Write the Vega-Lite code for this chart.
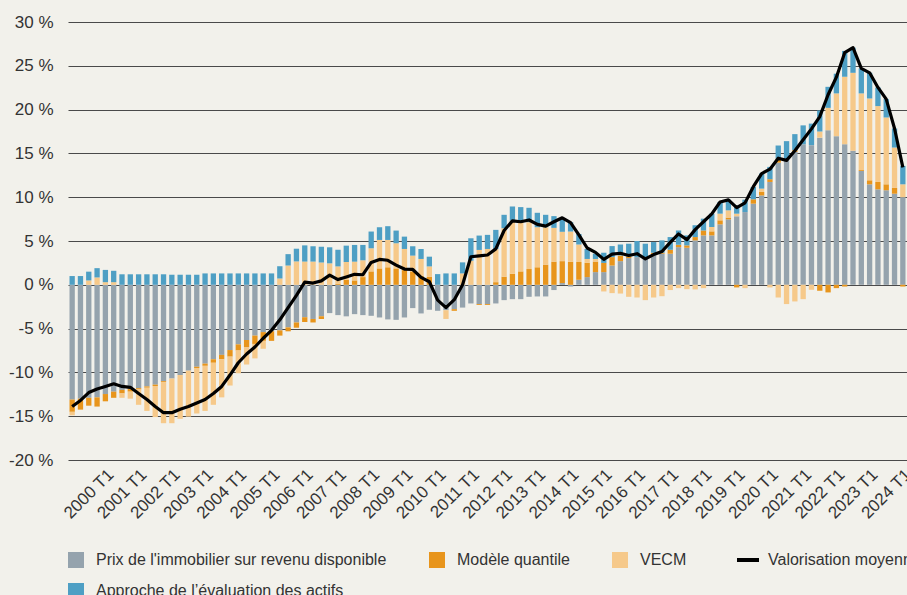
{
  "$schema": "https://vega.github.io/schema/vega-lite/v6.json",
  "width": 839,
  "height": 438,
  "autosize": {"type": "none"},
  "padding": {"left": 68, "top": 22, "right": 0, "bottom": 135},
  "background": "#f2f1eb",
  "config": {
    "view": {"stroke": null},
    "font": "Liberation Sans",
    "axis": {"labelFont": "Liberation Sans", "labelColor": "#333333"},
    "legend": {"labelFont": "Liberation Sans", "labelColor": "#333333"}
  },
  "data": {
    "values": [
      {"q": "1999 T1", "s1_prix": -13.1, "s2_quantile": -1.4, "s3_vecm": -0.4, "s4_actifs": 1.0, "moyenne": -13.9},
      {"q": "1999 T2", "s1_prix": -13.0, "s2_quantile": -1.25, "s3_vecm": 0, "s4_actifs": 1.0, "moyenne": -13.2},
      {"q": "1999 T3", "s1_prix": -12.9, "s2_quantile": -0.9, "s3_vecm": 0.5, "s4_actifs": 1.0, "moyenne": -12.3},
      {"q": "1999 T4", "s1_prix": -12.85, "s2_quantile": -1.05, "s3_vecm": 0.84, "s4_actifs": 1.06, "moyenne": -11.9},
      {"q": "2000 T1", "s1_prix": -12.47, "s2_quantile": -0.83, "s3_vecm": 0.3, "s4_actifs": 1.4, "moyenne": -11.6},
      {"q": "2000 T2", "s1_prix": -12.2, "s2_quantile": -0.7, "s3_vecm": 0.3, "s4_actifs": 1.3, "moyenne": -11.3},
      {"q": "2000 T3", "s1_prix": -12.0, "s2_quantile": -0.4, "s3_vecm": -0.5, "s4_actifs": 1.2, "moyenne": -11.6},
      {"q": "2000 T4", "s1_prix": -11.9, "s2_quantile": -0.3, "s3_vecm": -0.8, "s4_actifs": 1.2, "moyenne": -11.7},
      {"q": "2001 T1", "s1_prix": -11.8, "s2_quantile": -0.15, "s3_vecm": -1.75, "s4_actifs": 1.2, "moyenne": -12.4},
      {"q": "2001 T2", "s1_prix": -11.6, "s2_quantile": -0.15, "s3_vecm": -2.65, "s4_actifs": 1.2, "moyenne": -13.1},
      {"q": "2001 T3", "s1_prix": -11.4, "s2_quantile": -0.15, "s3_vecm": -3.55, "s4_actifs": 1.2, "moyenne": -13.9},
      {"q": "2001 T4", "s1_prix": -11.0, "s2_quantile": -0.1, "s3_vecm": -4.7, "s4_actifs": 1.2, "moyenne": -14.6},
      {"q": "2002 T1", "s1_prix": -10.7, "s2_quantile": 0, "s3_vecm": -5.1, "s4_actifs": 1.15, "moyenne": -14.6},
      {"q": "2002 T2", "s1_prix": -10.3, "s2_quantile": 0, "s3_vecm": -5.0, "s4_actifs": 1.15, "moyenne": -14.2},
      {"q": "2002 T3", "s1_prix": -9.8, "s2_quantile": 0, "s3_vecm": -5.25, "s4_actifs": 1.15, "moyenne": -13.9},
      {"q": "2002 T4", "s1_prix": -9.35, "s2_quantile": -0.15, "s3_vecm": -5.2, "s4_actifs": 1.15, "moyenne": -13.5},
      {"q": "2003 T1", "s1_prix": -9.0, "s2_quantile": -0.25, "s3_vecm": -5.15, "s4_actifs": 1.3, "moyenne": -13.1},
      {"q": "2003 T2", "s1_prix": -8.5, "s2_quantile": -0.4, "s3_vecm": -4.8, "s4_actifs": 1.3, "moyenne": -12.4},
      {"q": "2003 T3", "s1_prix": -8.0, "s2_quantile": -0.5, "s3_vecm": -4.35, "s4_actifs": 1.3, "moyenne": -11.6},
      {"q": "2003 T4", "s1_prix": -7.45, "s2_quantile": -0.75, "s3_vecm": -3.3, "s4_actifs": 1.3, "moyenne": -10.3},
      {"q": "2004 T1", "s1_prix": -6.8, "s2_quantile": -0.7, "s3_vecm": -2.6, "s4_actifs": 1.3, "moyenne": -8.9},
      {"q": "2004 T2", "s1_prix": -6.3, "s2_quantile": -0.85, "s3_vecm": -1.95, "s4_actifs": 1.3, "moyenne": -7.9},
      {"q": "2004 T3", "s1_prix": -5.8, "s2_quantile": -0.95, "s3_vecm": -1.65, "s4_actifs": 1.3, "moyenne": -7.1},
      {"q": "2004 T4", "s1_prix": -5.4, "s2_quantile": -1.0, "s3_vecm": -0.9, "s4_actifs": 1.3, "moyenne": -6.1},
      {"q": "2005 T1", "s1_prix": -5.3, "s2_quantile": -1.1, "s3_vecm": 0, "s4_actifs": 1.3, "moyenne": -5.2},
      {"q": "2005 T2", "s1_prix": -5.2, "s2_quantile": -0.6, "s3_vecm": 0.72, "s4_actifs": 1.4, "moyenne": -4.0},
      {"q": "2005 T3", "s1_prix": -4.86, "s2_quantile": -0.45, "s3_vecm": 2.2, "s4_actifs": 1.3, "moyenne": -2.6},
      {"q": "2005 T4", "s1_prix": -4.3, "s2_quantile": -0.6, "s3_vecm": 2.67, "s4_actifs": 1.45, "moyenne": -1.2},
      {"q": "2006 T1", "s1_prix": -3.7, "s2_quantile": -0.55, "s3_vecm": 2.65, "s4_actifs": 1.85, "moyenne": 0.3},
      {"q": "2006 T2", "s1_prix": -3.9, "s2_quantile": -0.4, "s3_vecm": 2.65, "s4_actifs": 1.75, "moyenne": 0.2},
      {"q": "2006 T3", "s1_prix": -3.6, "s2_quantile": -0.3, "s3_vecm": 2.55, "s4_actifs": 1.8, "moyenne": 0.45},
      {"q": "2006 T4", "s1_prix": -3.23, "s2_quantile": 0, "s3_vecm": 2.45, "s4_actifs": 1.83, "moyenne": 1.1},
      {"q": "2007 T1", "s1_prix": -3.46, "s2_quantile": 0.1, "s3_vecm": 2.0, "s4_actifs": 1.9, "moyenne": 0.6},
      {"q": "2007 T2", "s1_prix": -3.6, "s2_quantile": 0.57, "s3_vecm": 2.03, "s4_actifs": 1.87, "moyenne": 0.9},
      {"q": "2007 T3", "s1_prix": -3.35, "s2_quantile": 0.5, "s3_vecm": 2.14, "s4_actifs": 1.91, "moyenne": 1.2},
      {"q": "2007 T4", "s1_prix": -3.46, "s2_quantile": 0.88, "s3_vecm": 1.92, "s4_actifs": 1.75, "moyenne": 1.15},
      {"q": "2008 T1", "s1_prix": -3.54, "s2_quantile": 1.53, "s3_vecm": 2.64, "s4_actifs": 1.91, "moyenne": 2.55},
      {"q": "2008 T2", "s1_prix": -3.73, "s2_quantile": 1.87, "s3_vecm": 3.25, "s4_actifs": 1.45, "moyenne": 2.9},
      {"q": "2008 T3", "s1_prix": -3.95, "s2_quantile": 2.0, "s3_vecm": 3.12, "s4_actifs": 1.57, "moyenne": 2.8},
      {"q": "2008 T4", "s1_prix": -4.0, "s2_quantile": 1.87, "s3_vecm": 2.87, "s4_actifs": 1.45, "moyenne": 2.25},
      {"q": "2009 T1", "s1_prix": -3.73, "s2_quantile": 1.68, "s3_vecm": 2.41, "s4_actifs": 1.41, "moyenne": 1.8},
      {"q": "2009 T2", "s1_prix": -2.66, "s2_quantile": 1.53, "s3_vecm": 1.8, "s4_actifs": 1.07, "moyenne": 1.75},
      {"q": "2009 T3", "s1_prix": -3.27, "s2_quantile": 1.03, "s3_vecm": 1.92, "s4_actifs": 1.14, "moyenne": 0.85},
      {"q": "2009 T4", "s1_prix": -2.85, "s2_quantile": 0.9, "s3_vecm": 1.2, "s4_actifs": 1.11, "moyenne": 0.35},
      {"q": "2010 T1", "s1_prix": -2.97, "s2_quantile": 0, "s3_vecm": 0, "s4_actifs": 1.22, "moyenne": -1.75},
      {"q": "2010 T2", "s1_prix": -2.9, "s2_quantile": 0, "s3_vecm": -1.0, "s4_actifs": 1.3, "moyenne": -2.6},
      {"q": "2010 T3", "s1_prix": -2.78, "s2_quantile": -0.19, "s3_vecm": 0, "s4_actifs": 1.3, "moyenne": -1.7},
      {"q": "2010 T4", "s1_prix": -2.6, "s2_quantile": 0, "s3_vecm": 1.3, "s4_actifs": 1.26, "moyenne": 0},
      {"q": "2011 T1", "s1_prix": -2.13, "s2_quantile": 0, "s3_vecm": 2.75, "s4_actifs": 2.56, "moyenne": 3.2},
      {"q": "2011 T2", "s1_prix": -2.2, "s2_quantile": -0.1, "s3_vecm": 3.98, "s4_actifs": 1.64, "moyenne": 3.3},
      {"q": "2011 T3", "s1_prix": -2.2, "s2_quantile": -0.1, "s3_vecm": 4.09, "s4_actifs": 1.61, "moyenne": 3.4},
      {"q": "2011 T4", "s1_prix": -2.13, "s2_quantile": 0.3, "s3_vecm": 3.79, "s4_actifs": 2.18, "moyenne": 4.1},
      {"q": "2012 T1", "s1_prix": -1.75, "s2_quantile": 0.92, "s3_vecm": 5.54, "s4_actifs": 1.53, "moyenne": 6.2},
      {"q": "2012 T2", "s1_prix": -1.64, "s2_quantile": 1.26, "s3_vecm": 6.08, "s4_actifs": 1.6, "moyenne": 7.3},
      {"q": "2012 T3", "s1_prix": -1.64, "s2_quantile": 1.53, "s3_vecm": 5.62, "s4_actifs": 1.72, "moyenne": 7.2},
      {"q": "2012 T4", "s1_prix": -1.37, "s2_quantile": 1.8, "s3_vecm": 5.35, "s4_actifs": 1.64, "moyenne": 7.4},
      {"q": "2013 T1", "s1_prix": -1.33, "s2_quantile": 2.0, "s3_vecm": 4.57, "s4_actifs": 1.65, "moyenne": 6.9},
      {"q": "2013 T2", "s1_prix": -1.33, "s2_quantile": 2.3, "s3_vecm": 4.27, "s4_actifs": 1.42, "moyenne": 6.7},
      {"q": "2013 T3", "s1_prix": -0.6, "s2_quantile": 2.64, "s3_vecm": 3.86, "s4_actifs": 1.34, "moyenne": 7.2},
      {"q": "2013 T4", "s1_prix": 0.2, "s2_quantile": 2.5, "s3_vecm": 3.35, "s4_actifs": 1.6, "moyenne": 7.65},
      {"q": "2014 T1", "s1_prix": -0.2, "s2_quantile": 2.64, "s3_vecm": 3.44, "s4_actifs": 1.07, "moyenne": 7.1},
      {"q": "2014 T2", "s1_prix": 0.57, "s2_quantile": 2.03, "s3_vecm": 1.99, "s4_actifs": 1.22, "moyenne": 5.7},
      {"q": "2014 T3", "s1_prix": 0.88, "s2_quantile": 1.62, "s3_vecm": 0.45, "s4_actifs": 1.14, "moyenne": 4.2},
      {"q": "2014 T4", "s1_prix": 1.45, "s2_quantile": 1.2, "s3_vecm": 0.3, "s4_actifs": 0.6, "moyenne": 3.7},
      {"q": "2015 T1", "s1_prix": 1.45, "s2_quantile": 1.05, "s3_vecm": -0.76, "s4_actifs": 1.16, "moyenne": 2.9},
      {"q": "2015 T2", "s1_prix": 2.2, "s2_quantile": 0.96, "s3_vecm": -0.95, "s4_actifs": 1.26, "moyenne": 3.5},
      {"q": "2015 T3", "s1_prix": 2.7, "s2_quantile": 0.65, "s3_vecm": -1.0, "s4_actifs": 1.25, "moyenne": 3.6},
      {"q": "2015 T4", "s1_prix": 3.05, "s2_quantile": 0.19, "s3_vecm": -1.37, "s4_actifs": 1.45, "moyenne": 3.35},
      {"q": "2016 T1", "s1_prix": 3.16, "s2_quantile": 0, "s3_vecm": -1.45, "s4_actifs": 1.84, "moyenne": 3.55},
      {"q": "2016 T2", "s1_prix": 3.05, "s2_quantile": 0, "s3_vecm": -1.75, "s4_actifs": 1.64, "moyenne": 2.95},
      {"q": "2016 T3", "s1_prix": 3.43, "s2_quantile": 0.23, "s3_vecm": -1.45, "s4_actifs": 1.22, "moyenne": 3.45},
      {"q": "2016 T4", "s1_prix": 3.55, "s2_quantile": 0.11, "s3_vecm": -1.3, "s4_actifs": 1.41, "moyenne": 3.8},
      {"q": "2017 T1", "s1_prix": 3.55, "s2_quantile": 0.45, "s3_vecm": -0.6, "s4_actifs": 1.45, "moyenne": 4.85},
      {"q": "2017 T2", "s1_prix": 4.3, "s2_quantile": 0.27, "s3_vecm": -0.38, "s4_actifs": 1.63, "moyenne": 5.8},
      {"q": "2017 T3", "s1_prix": 4.23, "s2_quantile": 0.27, "s3_vecm": -0.5, "s4_actifs": 1.14, "moyenne": 5.15},
      {"q": "2017 T4", "s1_prix": 5.07, "s2_quantile": 0.38, "s3_vecm": -0.53, "s4_actifs": 1.35, "moyenne": 6.3},
      {"q": "2018 T1", "s1_prix": 5.64, "s2_quantile": 0.56, "s3_vecm": -0.38, "s4_actifs": 1.35, "moyenne": 7.2},
      {"q": "2018 T2", "s1_prix": 5.64, "s2_quantile": 0.46, "s3_vecm": 0.5, "s4_actifs": 1.52, "moyenne": 8.1},
      {"q": "2018 T3", "s1_prix": 6.9, "s2_quantile": 0.46, "s3_vecm": 0.76, "s4_actifs": 1.33, "moyenne": 9.45},
      {"q": "2018 T4", "s1_prix": 7.47, "s2_quantile": 0.2, "s3_vecm": 0.83, "s4_actifs": 1.22, "moyenne": 9.7},
      {"q": "2019 T1", "s1_prix": 7.82, "s2_quantile": -0.3, "s3_vecm": 0.3, "s4_actifs": 0.95, "moyenne": 8.8},
      {"q": "2019 T2", "s1_prix": 8.3, "s2_quantile": 0, "s3_vecm": -0.38, "s4_actifs": 1.42, "moyenne": 9.35},
      {"q": "2019 T3", "s1_prix": 9.26, "s2_quantile": 0.5, "s3_vecm": 0, "s4_actifs": 1.41, "moyenne": 11.2},
      {"q": "2019 T4", "s1_prix": 10.2, "s2_quantile": 0.4, "s3_vecm": 0.38, "s4_actifs": 1.72, "moyenne": 12.7},
      {"q": "2020 T1", "s1_prix": 11.74, "s2_quantile": 0.31, "s3_vecm": -0.3, "s4_actifs": 1.41, "moyenne": 13.2},
      {"q": "2020 T2", "s1_prix": 13.95, "s2_quantile": 0.45, "s3_vecm": -1.45, "s4_actifs": 1.5, "moyenne": 14.45},
      {"q": "2020 T3", "s1_prix": 14.3, "s2_quantile": 0, "s3_vecm": -2.2, "s4_actifs": 2.1, "moyenne": 14.2},
      {"q": "2020 T4", "s1_prix": 15.17, "s2_quantile": 0.2, "s3_vecm": -1.9, "s4_actifs": 1.83, "moyenne": 15.3},
      {"q": "2021 T1", "s1_prix": 16.05, "s2_quantile": 0, "s3_vecm": -1.64, "s4_actifs": 2.15, "moyenne": 16.55},
      {"q": "2021 T2", "s1_prix": 15.94, "s2_quantile": 0, "s3_vecm": -0.57, "s4_actifs": 2.46, "moyenne": 17.8},
      {"q": "2021 T3", "s1_prix": 16.8, "s2_quantile": -0.68, "s3_vecm": 0.7, "s4_actifs": 2.4, "moyenne": 19.2},
      {"q": "2021 T4", "s1_prix": 17.65, "s2_quantile": -0.87, "s3_vecm": 2.55, "s4_actifs": 2.4, "moyenne": 21.7},
      {"q": "2022 T1", "s1_prix": 16.97, "s2_quantile": -0.38, "s3_vecm": 4.88, "s4_actifs": 2.25, "moyenne": 23.7},
      {"q": "2022 T2", "s1_prix": 16.05, "s2_quantile": -0.2, "s3_vecm": 7.7, "s4_actifs": 2.95, "moyenne": 26.5},
      {"q": "2022 T3", "s1_prix": 15.3, "s2_quantile": 0, "s3_vecm": 8.9, "s4_actifs": 2.87, "moyenne": 27.07},
      {"q": "2022 T4", "s1_prix": 13.0, "s2_quantile": 0.1, "s3_vecm": 8.75, "s4_actifs": 2.85, "moyenne": 24.7},
      {"q": "2023 T1", "s1_prix": 11.47, "s2_quantile": 0.46, "s3_vecm": 9.34, "s4_actifs": 2.93, "moyenne": 24.2},
      {"q": "2023 T2", "s1_prix": 10.9, "s2_quantile": 0.84, "s3_vecm": 8.66, "s4_actifs": 2.13, "moyenne": 22.53},
      {"q": "2023 T3", "s1_prix": 10.79, "s2_quantile": 0.68, "s3_vecm": 7.63, "s4_actifs": 2.1, "moyenne": 21.2},
      {"q": "2023 T4", "s1_prix": 10.4, "s2_quantile": 0.66, "s3_vecm": 4.61, "s4_actifs": 2.17, "moyenne": 17.84},
      {"q": "2024 T1", "s1_prix": 10.0, "s2_quantile": -0.2, "s3_vecm": 1.47, "s4_actifs": 2.1, "moyenne": 13.4}
    ]
  },
  "encoding": {
    "x": {
      "field": "q",
      "type": "ordinal",
      "sort": null,
      "scale": {"paddingInner": 0.36, "paddingOuter": 0.18},
      "axis": {
        "title": null,
        "values": ["2000 T1", "2001 T1", "2002 T1", "2003 T1", "2004 T1", "2005 T1", "2006 T1", "2007 T1", "2008 T1", "2009 T1", "2010 T1", "2011 T1", "2012 T1", "2013 T1", "2014 T1", "2015 T1", "2016 T1", "2017 T1", "2018 T1", "2019 T1", "2020 T1", "2021 T1", "2022 T1", "2023 T1", "2024 T1"],
        "labelAngle": -45,
        "labelFontSize": 17,
        "labelPadding": 6,
        "ticks": false,
        "domain": false,
        "grid": false
      }
    }
  },
  "layer": [
    {
      "transform": [{"fold": ["s1_prix", "s2_quantile", "s3_vecm", "s4_actifs"], "as": ["serie", "valeur"]}],
      "mark": {"type": "bar"},
      "encoding": {
        "y": {
          "field": "valeur",
          "type": "quantitative",
          "stack": "zero",
          "scale": {"domain": [-20, 30], "nice": false, "zero": false},
          "axis": {
            "title": null,
            "values": [-20, -15, -10, -5, 0, 5, 10, 15, 20, 25, 30],
            "labelExpr": "datum.value + ' %'",
            "labelFontSize": 17,
            "labelPadding": 15,
            "ticks": false,
            "domain": false,
            "grid": true,
            "gridColor": "#4a4a4a",
            "gridWidth": 1.2
          }
        },
        "color": {
          "field": "serie",
          "type": "nominal",
          "scale": {
            "domain": ["s1_prix", "s2_quantile", "s3_vecm", "s5_moyenne", "s4_actifs"],
            "range": ["#95a3ad", "#e8951c", "#f6c98a", "#000000", "#4e9fc4"]
          },
          "legend": {
            "orient": "none",
            "legendX": 0,
            "legendY": 530,
            "direction": "horizontal",
            "columns": 4,
            "title": null,
            "padding": 0,
            "symbolType": "square",
            "symbolSize": 256,
            "symbolStrokeWidth": 0,
            "labelFontSize": 16,
            "labelOffset": 12,
            "labelLimit": 400,
            "columnPadding": 42,
            "rowPadding": 15,
            "labelExpr": "datum.value == 's1_prix' ? \"Prix de l'immobilier sur revenu disponible\" : datum.value == 's2_quantile' ? 'Modèle quantile' : datum.value == 's3_vecm' ? 'VECM' : datum.value == 's5_moyenne' ? 'Valorisation moyenne' : 'Approche de l’évaluation des actifs'",
            "encode": {
              "symbols": {
                "update": {
                  "shape": {"signal": "datum.value == 's5_moyenne' ? 'stroke' : 'square'"},
                  "size": {"signal": "datum.value == 's5_moyenne' ? 484 : 256"},
                  "fill": {"signal": "datum.value == 's5_moyenne' ? 'transparent' : scale('color', datum.value)"},
                  "stroke": {"signal": "datum.value == 's5_moyenne' ? '#000000' : 'transparent'"},
                  "strokeWidth": {"signal": "datum.value == 's5_moyenne' ? 4 : 0"},
                  "opacity": {"value": 1}
                }
              }
            }
          }
        },
        "order": {"field": "serie", "sort": "ascending"}
      }
    },
    {
      "mark": {"type": "rule", "color": "#111111", "strokeWidth": 1.4},
      "encoding": {"y": {"datum": 0}}
    },
    {
      "mark": {"type": "line", "color": "#000000", "strokeWidth": 3.2, "strokeJoin": "round"},
      "encoding": {
        "y": {"field": "moyenne", "type": "quantitative"}
      }
    }
  ]
}
